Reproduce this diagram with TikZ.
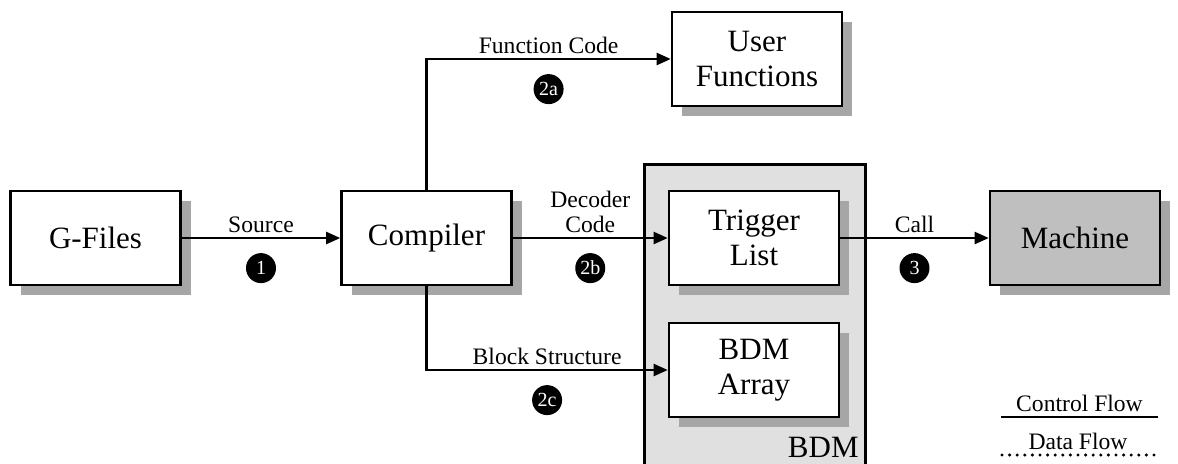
\documentclass[tikz,border=0pt]{standalone}
\usepackage{fontspec}
\setmainfont{Liberation Serif}
\usetikzlibrary{arrows.meta, shadows}

\begin{document}
\begin{tikzpicture}[x=0.5pt, y=-0.5pt,
    block/.style={rectangle, draw, line width=1.3pt, fill=white, minimum width=85pt, minimum height=47pt, align=center, font=\fontsize{15.5}{17.5}\selectfont, drop shadow={shadow xshift=5pt, shadow yshift=-5pt, fill=black!35, opacity=1}},
    flow/.style={-{Triangle[length=7pt, width=6pt]}, line width=1.1pt},
    lbl/.style={font=\fontsize{11.8}{12.5}\selectfont, align=center, inner sep=2pt},
    stepno/.style={circle, fill=black, text=white, minimum size=15pt, inner sep=0pt, font=\fontsize{10}{10}\selectfont}]
        \useasboundingbox (0,0) rectangle (1178,463);
        % BDM container (runs off the bottom edge)
        \node[rectangle, draw, line width=1.3pt, fill=black!12, minimum width=110.5pt, minimum height=160pt, anchor=north west] (bdm) at (643,163) {};
        \node[anchor=base east, font=\fontsize{15.5}{17}\selectfont, inner sep=0pt] (bdmname) at (859,457) {BDM};
        % Blocks
        \node[block] (gfiles) at (95.5,238) {G-Files};
        \node[block] (compiler) at (426.5,238) {Compiler};
        \node[block] (userfn) at (757,59) {User\\Functions};
        \node[block] (trigger) at (754,238) {Trigger\\List};
        \node[block] (bdmarray) at (754,370) {BDM\\Array};
        \node[block, fill=black!25] (machine) at (1075,238) {Machine};
        % Arrows with numbered steps
        \draw[flow] (gfiles) -- (compiler) node[midway, above, lbl] (srclbl) {Source} node[midway, below=7pt, stepno] (s1) {1};
        \draw[flow] (compiler.north) |- (userfn) node[pos=0.75, above, lbl] (fnlbl) {Function Code} node[pos=0.75, below=7pt, stepno] (s2a) {2a};
        \draw[flow] (compiler) -- (trigger) node[midway, above, lbl] (declbl) {Decoder\\Code} node[midway, below=7pt, stepno] (s2b) {2b};
        \draw[flow] (compiler.south) |- (bdmarray) node[pos=0.75, above, lbl] (blklbl) {Block Structure} node[pos=0.75, below=7pt, stepno] (s2c) {2c};
        \draw[flow] (trigger) -- (machine) node[midway, above, lbl] (calllbl) {Call} node[midway, below=7pt, stepno] (s3) {3};
        % Legend
        \coordinate (ctrlA) at (1001,417);
        \coordinate (ctrlB) at (1158,417);
        \coordinate (dataA) at (1002,455);
        \coordinate (dataB) at (1154,455);
        \draw[line width=1.1pt] (ctrlA) -- (ctrlB) node[midway, above, lbl] (ctrlkey) {Control Flow};
        \draw[line width=1.7pt, line cap=round, dash pattern=on 0pt off 3.8pt] (dataA) -- (dataB) node[midway, above, lbl] (datakey) {Data Flow};
    \end{tikzpicture}
\end{document}
